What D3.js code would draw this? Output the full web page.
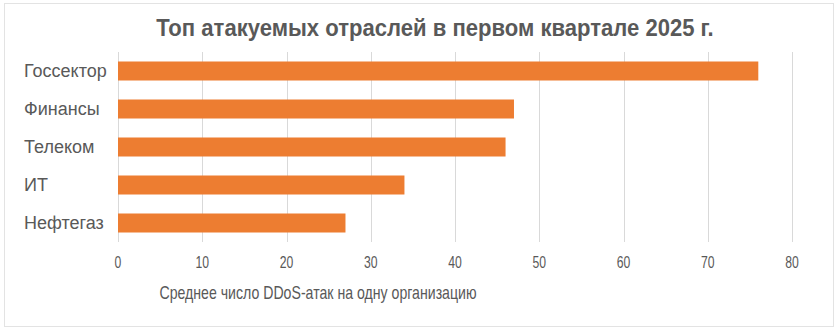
<!DOCTYPE html>
<html><head><meta charset="utf-8">
<script src="https://cdn.jsdelivr.net/npm/d3@7"></script>
<style>body{margin:0;background:#fff;}svg{display:block;font-family:"Liberation Sans",Arial,sans-serif;}</style>
</head><body><svg id="c" width="839" height="332"></svg>
<script>
const title = "Топ атакуемых отраслей в первом квартале 2025 г.";
const categories = ["Госсектор","Финансы","Телеком","ИТ","Нефтегаз"];
const values = [76,47,46,34,27];
const xTicks = [0,10,20,30,40,50,60,70,80];
const xTitle = "Среднее число DDoS-атак на одну организацию";

const svg = d3.select("#c");
svg.append("rect").attr("x",4.5).attr("y",3.5).attr("width",829).attr("height",323)
  .attr("fill","#fff").attr("stroke","#e3e3e3");
const x = d3.scaleLinear().domain([0,80]).range([118,792]);
const y = d3.scaleBand().domain(categories).range([52,242]).paddingInner(0.5).paddingOuter(0.25);

svg.append("g").selectAll("line").data(xTicks).join("line")
  .attr("x1",d=>Math.round(x(d))+0.5).attr("x2",d=>Math.round(x(d))+0.5)
  .attr("y1",52).attr("y2",242).attr("stroke","#d9d9d9").attr("stroke-width",1);

svg.append("g").selectAll("rect").data(categories).join("rect")
  .attr("x",x(0)).attr("y",d=>y(d)).attr("width",(d,i)=>x(values[i])-x(0))
  .attr("height",y.bandwidth()).attr("fill","#ED7D31");

svg.append("g").selectAll("text").data(categories).join("text")
  .attr("x",24).attr("y",d=>y(d)+y.bandwidth()/2).attr("dy","0.35em")
  .attr("text-anchor","start").attr("font-size",18).attr("fill","#595959").text(d=>d);

svg.append("g").selectAll("text").data(xTicks).join("text")
  .attr("transform",d=>`translate(${x(d)},262) scale(0.74,1)`).attr("dy","0.35em")
  .attr("text-anchor","middle").attr("font-size",16.5).attr("fill","#595959").text(d=>d);

svg.append("text").attr("transform","translate(318,293) scale(0.785,1)").attr("dy","0.35em")
  .attr("text-anchor","middle").attr("font-size",18).attr("fill","#595959").text(xTitle);

svg.append("text").attr("transform","translate(435,28) scale(0.92,1)").attr("dy","0.35em")
  .attr("text-anchor","middle").attr("font-size",24).attr("font-weight","bold").attr("fill","#595959").text(title);
</script></body></html>
